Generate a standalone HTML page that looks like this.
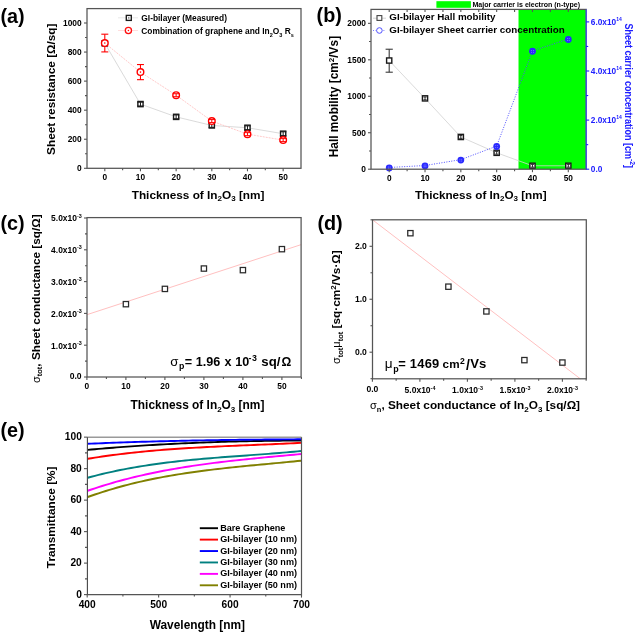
<!DOCTYPE html>
<html><head><meta charset="utf-8"><style>
html,body{margin:0;padding:0;background:#fff;}
svg{display:block;filter:blur(0.3px);font-family:"Liberation Sans", sans-serif;}
</style></head><body>
<svg width="637" height="632" viewBox="0 0 637 632">
<rect width="637" height="632" fill="#fff"/>
<polyline points="104.8,43.34 140.47,104.08 176.14,116.86 211.81,125.44 247.48,127.76 283.15,133.72" fill="none" stroke="#d6d6d6" stroke-width="0.9" />
<polyline points="104.8,43.05 140.47,72.11 176.14,95.21 211.81,121.08 247.48,134.15 283.15,140.11" fill="none" stroke="#ffc4c4" stroke-width="0.9" stroke-dasharray="2 1"/>
<rect x="102.2" y="40.74" width="5.2" height="5.2" fill="#fff" stroke="#1a1a1a" stroke-width="1.4" />
<line x1="104.8" y1="41.44" x2="104.8" y2="45.24" stroke="#1a1a1a" stroke-width="1" />
<line x1="101.6" y1="41.44" x2="108" y2="41.44" stroke="#1a1a1a" stroke-width="1" />
<line x1="101.6" y1="45.24" x2="108" y2="45.24" stroke="#1a1a1a" stroke-width="1" />
<rect x="137.87" y="101.48" width="5.2" height="5.2" fill="#fff" stroke="#1a1a1a" stroke-width="1.4" />
<line x1="140.47" y1="102.18" x2="140.47" y2="105.98" stroke="#1a1a1a" stroke-width="1" />
<line x1="137.27" y1="102.18" x2="143.67" y2="102.18" stroke="#1a1a1a" stroke-width="1" />
<line x1="137.27" y1="105.98" x2="143.67" y2="105.98" stroke="#1a1a1a" stroke-width="1" />
<rect x="173.54" y="114.26" width="5.2" height="5.2" fill="#fff" stroke="#1a1a1a" stroke-width="1.4" />
<line x1="176.14" y1="114.96" x2="176.14" y2="118.76" stroke="#1a1a1a" stroke-width="1" />
<line x1="172.94" y1="114.96" x2="179.34" y2="114.96" stroke="#1a1a1a" stroke-width="1" />
<line x1="172.94" y1="118.76" x2="179.34" y2="118.76" stroke="#1a1a1a" stroke-width="1" />
<rect x="209.21" y="122.84" width="5.2" height="5.2" fill="#fff" stroke="#1a1a1a" stroke-width="1.4" />
<line x1="211.81" y1="123.54" x2="211.81" y2="127.34" stroke="#1a1a1a" stroke-width="1" />
<line x1="208.61" y1="123.54" x2="215.01" y2="123.54" stroke="#1a1a1a" stroke-width="1" />
<line x1="208.61" y1="127.34" x2="215.01" y2="127.34" stroke="#1a1a1a" stroke-width="1" />
<rect x="244.88" y="125.16" width="5.2" height="5.2" fill="#fff" stroke="#1a1a1a" stroke-width="1.4" />
<line x1="247.48" y1="125.86" x2="247.48" y2="129.66" stroke="#1a1a1a" stroke-width="1" />
<line x1="244.28" y1="125.86" x2="250.68" y2="125.86" stroke="#1a1a1a" stroke-width="1" />
<line x1="244.28" y1="129.66" x2="250.68" y2="129.66" stroke="#1a1a1a" stroke-width="1" />
<rect x="280.55" y="131.12" width="5.2" height="5.2" fill="#fff" stroke="#1a1a1a" stroke-width="1.4" />
<line x1="283.15" y1="131.82" x2="283.15" y2="135.62" stroke="#1a1a1a" stroke-width="1" />
<line x1="279.95" y1="131.82" x2="286.35" y2="131.82" stroke="#1a1a1a" stroke-width="1" />
<line x1="279.95" y1="135.62" x2="286.35" y2="135.62" stroke="#1a1a1a" stroke-width="1" />
<line x1="104.8" y1="51.91" x2="104.8" y2="34.19" stroke="#f00" stroke-width="1.1" />
<line x1="101.3" y1="51.91" x2="108.3" y2="51.91" stroke="#f00" stroke-width="1.1" />
<line x1="101.3" y1="34.19" x2="108.3" y2="34.19" stroke="#f00" stroke-width="1.1" />
<circle cx="104.8" cy="43.05" r="3.3" fill="#fff" stroke="#f00" stroke-width="1.4"/>
<circle cx="104.8" cy="43.05" r="0.8" fill="#f00"/>
<line x1="140.47" y1="79.67" x2="140.47" y2="64.56" stroke="#f00" stroke-width="1.1" />
<line x1="136.97" y1="79.67" x2="143.97" y2="79.67" stroke="#f00" stroke-width="1.1" />
<line x1="136.97" y1="64.56" x2="143.97" y2="64.56" stroke="#f00" stroke-width="1.1" />
<circle cx="140.47" cy="72.11" r="3.3" fill="#fff" stroke="#f00" stroke-width="1.4"/>
<circle cx="140.47" cy="72.11" r="0.8" fill="#f00"/>
<circle cx="176.14" cy="95.21" r="3.3" fill="#fff" stroke="#f00" stroke-width="1.4"/>
<line x1="176.14" y1="93.71" x2="176.14" y2="96.71" stroke="#f00" stroke-width="1" />
<line x1="172.74" y1="93.71" x2="179.54" y2="93.71" stroke="#f00" stroke-width="1" />
<line x1="172.74" y1="96.71" x2="179.54" y2="96.71" stroke="#f00" stroke-width="1" />
<circle cx="211.81" cy="121.08" r="3.3" fill="#fff" stroke="#f00" stroke-width="1.4"/>
<line x1="211.81" y1="119.58" x2="211.81" y2="122.58" stroke="#f00" stroke-width="1" />
<line x1="208.41" y1="119.58" x2="215.21" y2="119.58" stroke="#f00" stroke-width="1" />
<line x1="208.41" y1="122.58" x2="215.21" y2="122.58" stroke="#f00" stroke-width="1" />
<circle cx="247.48" cy="134.15" r="3.3" fill="#fff" stroke="#f00" stroke-width="1.4"/>
<line x1="247.48" y1="132.65" x2="247.48" y2="135.65" stroke="#f00" stroke-width="1" />
<line x1="244.08" y1="132.65" x2="250.88" y2="132.65" stroke="#f00" stroke-width="1" />
<line x1="244.08" y1="135.65" x2="250.88" y2="135.65" stroke="#f00" stroke-width="1" />
<circle cx="283.15" cy="140.11" r="3.3" fill="#fff" stroke="#f00" stroke-width="1.4"/>
<line x1="283.15" y1="138.61" x2="283.15" y2="141.61" stroke="#f00" stroke-width="1" />
<line x1="279.75" y1="138.61" x2="286.55" y2="138.61" stroke="#f00" stroke-width="1" />
<line x1="279.75" y1="141.61" x2="286.55" y2="141.61" stroke="#f00" stroke-width="1" />
<rect x="87" y="8.6" width="214" height="159.7" fill="none" stroke="#555555" stroke-width="1.25" />
<line x1="87" y1="168.3" x2="84" y2="168.3" stroke="#555555" stroke-width="1.1" />
<line x1="87" y1="139.24" x2="84" y2="139.24" stroke="#555555" stroke-width="1.1" />
<line x1="87" y1="110.18" x2="84" y2="110.18" stroke="#555555" stroke-width="1.1" />
<line x1="87" y1="81.12" x2="84" y2="81.12" stroke="#555555" stroke-width="1.1" />
<line x1="87" y1="52.06" x2="84" y2="52.06" stroke="#555555" stroke-width="1.1" />
<line x1="87" y1="23" x2="84" y2="23" stroke="#555555" stroke-width="1.1" />
<line x1="87" y1="153.77" x2="85" y2="153.77" stroke="#555555" stroke-width="1.1" />
<line x1="87" y1="124.71" x2="85" y2="124.71" stroke="#555555" stroke-width="1.1" />
<line x1="87" y1="95.65" x2="85" y2="95.65" stroke="#555555" stroke-width="1.1" />
<line x1="87" y1="66.59" x2="85" y2="66.59" stroke="#555555" stroke-width="1.1" />
<line x1="87" y1="37.53" x2="85" y2="37.53" stroke="#555555" stroke-width="1.1" />
<line x1="104.8" y1="168.3" x2="104.8" y2="171.3" stroke="#555555" stroke-width="1.1" />
<line x1="140.47" y1="168.3" x2="140.47" y2="171.3" stroke="#555555" stroke-width="1.1" />
<line x1="176.14" y1="168.3" x2="176.14" y2="171.3" stroke="#555555" stroke-width="1.1" />
<line x1="211.81" y1="168.3" x2="211.81" y2="171.3" stroke="#555555" stroke-width="1.1" />
<line x1="247.48" y1="168.3" x2="247.48" y2="171.3" stroke="#555555" stroke-width="1.1" />
<line x1="283.15" y1="168.3" x2="283.15" y2="171.3" stroke="#555555" stroke-width="1.1" />
<line x1="122.63" y1="168.3" x2="122.63" y2="170.3" stroke="#555555" stroke-width="1.1" />
<line x1="158.31" y1="168.3" x2="158.31" y2="170.3" stroke="#555555" stroke-width="1.1" />
<line x1="193.98" y1="168.3" x2="193.98" y2="170.3" stroke="#555555" stroke-width="1.1" />
<line x1="229.64" y1="168.3" x2="229.64" y2="170.3" stroke="#555555" stroke-width="1.1" />
<line x1="265.31" y1="168.3" x2="265.31" y2="170.3" stroke="#555555" stroke-width="1.1" />
<text x="81.7" y="171" font-size="8.4" text-anchor="end" fill="#000" font-weight="bold" >0</text>
<text x="81.7" y="141.94" font-size="8.4" text-anchor="end" fill="#000" font-weight="bold" >200</text>
<text x="81.7" y="112.88" font-size="8.4" text-anchor="end" fill="#000" font-weight="bold" >400</text>
<text x="81.7" y="83.82" font-size="8.4" text-anchor="end" fill="#000" font-weight="bold" >600</text>
<text x="81.7" y="54.76" font-size="8.4" text-anchor="end" fill="#000" font-weight="bold" >800</text>
<text x="81.7" y="25.7" font-size="8.4" text-anchor="end" fill="#000" font-weight="bold" >1000</text>
<text x="104.8" y="180" font-size="8.3" text-anchor="middle" fill="#000" font-weight="bold" >0</text>
<text x="140.47" y="180" font-size="8.3" text-anchor="middle" fill="#000" font-weight="bold" >10</text>
<text x="176.14" y="180" font-size="8.3" text-anchor="middle" fill="#000" font-weight="bold" >20</text>
<text x="211.81" y="180" font-size="8.3" text-anchor="middle" fill="#000" font-weight="bold" >30</text>
<text x="247.48" y="180" font-size="8.3" text-anchor="middle" fill="#000" font-weight="bold" >40</text>
<text x="283.15" y="180" font-size="8.3" text-anchor="middle" fill="#000" font-weight="bold" >50</text>
<text x="131.7" y="198.7" font-size="11.8" text-anchor="start" fill="#000" font-weight="bold" >Thickness of In<tspan font-size="8" dy="2.5">2</tspan><tspan font-size="11.8" dy="-2.5">O</tspan><tspan font-size="8" dy="2.5">3</tspan><tspan font-size="11.8" dy="-2.5"> [nm]</tspan></text>
<text x="55.1" y="89.2" font-size="11.8" text-anchor="middle" fill="#000" font-weight="bold" transform="rotate(-90 55.1 89.2)" >Sheet resistance [Ω/sq]</text>
<text x="0.4" y="23.1" font-size="19.8" text-anchor="start" fill="#000" font-weight="bold" >(a)</text>
<line x1="118" y1="17.8" x2="138" y2="17.8" stroke="#e2e2e2" stroke-width="0.8" />
<rect x="126.3" y="15.4" width="5" height="5" fill="#fff" stroke="#1a1a1a" stroke-width="1.35" />
<circle cx="128.8" cy="17.9" r="0.7" fill="#333"/>
<line x1="118" y1="30.5" x2="138" y2="30.5" stroke="#ffd6d6" stroke-width="0.8" />
<circle cx="128.4" cy="30.5" r="3.1" fill="#fff" stroke="#ff1010" stroke-width="1.3"/>
<circle cx="128.4" cy="30.5" r="0.8" fill="#ff1010"/>
<text x="141.3" y="20.7" font-size="8.4" text-anchor="start" fill="#000" font-weight="bold" >GI-bilayer (Measured)</text>
<text x="141.3" y="33.5" font-size="8.4" text-anchor="start" fill="#000" font-weight="bold" >Combination of graphene and In<tspan font-size="5.5" dy="3">2</tspan><tspan font-size="8.4" dy="-3">O</tspan><tspan font-size="5.5" dy="3">3</tspan><tspan font-size="8.4" dy="-3"> R</tspan><tspan font-size="5.5" dy="3">s</tspan></text>
<rect x="518.51" y="9.4" width="67.69" height="159.8" fill="#00ff00" stroke="none" stroke-width="1" />
<polyline points="389.2,60.53 425.02,98.38 460.84,136.96 496.66,152.79 532.48,165.77 568.3,165.77" fill="none" stroke="#d0d0d0" stroke-width="0.8" />
<polyline points="389.2,167.48 425.02,165.52 460.84,159.63 496.66,146.12 532.48,50.87 568.3,39.08" fill="none" stroke="#5050ff" stroke-width="1" stroke-dasharray="1 1.5"/>
<line x1="389.2" y1="49.23" x2="389.2" y2="72.2" stroke="#3a3a3a" stroke-width="1.1" />
<line x1="385.6" y1="49.23" x2="392.8" y2="49.23" stroke="#3a3a3a" stroke-width="1.1" />
<line x1="385.6" y1="72.2" x2="392.8" y2="72.2" stroke="#3a3a3a" stroke-width="1.1" />
<rect x="386.6" y="57.93" width="5.2" height="5.2" fill="#fff" stroke="#1a1a1a" stroke-width="1.4" />
<rect x="422.42" y="95.78" width="5.2" height="5.2" fill="#fff" stroke="#1a1a1a" stroke-width="1.4" />
<line x1="425.02" y1="96.98" x2="425.02" y2="99.78" stroke="#1a1a1a" stroke-width="0.9" />
<line x1="423.42" y1="96.98" x2="426.62" y2="96.98" stroke="#1a1a1a" stroke-width="0.9" />
<line x1="423.42" y1="99.78" x2="426.62" y2="99.78" stroke="#1a1a1a" stroke-width="0.9" />
<rect x="458.24" y="134.36" width="5.2" height="5.2" fill="#fff" stroke="#1a1a1a" stroke-width="1.4" />
<line x1="460.84" y1="135.56" x2="460.84" y2="138.36" stroke="#1a1a1a" stroke-width="0.9" />
<line x1="459.24" y1="135.56" x2="462.44" y2="135.56" stroke="#1a1a1a" stroke-width="0.9" />
<line x1="459.24" y1="138.36" x2="462.44" y2="138.36" stroke="#1a1a1a" stroke-width="0.9" />
<rect x="494.06" y="150.19" width="5.2" height="5.2" fill="#fff" stroke="#1a1a1a" stroke-width="1.4" />
<line x1="496.66" y1="151.39" x2="496.66" y2="154.19" stroke="#1a1a1a" stroke-width="0.9" />
<line x1="495.06" y1="151.39" x2="498.26" y2="151.39" stroke="#1a1a1a" stroke-width="0.9" />
<line x1="495.06" y1="154.19" x2="498.26" y2="154.19" stroke="#1a1a1a" stroke-width="0.9" />
<rect x="529.88" y="163.17" width="5.2" height="5.2" fill="#fff" stroke="#1a1a1a" stroke-width="1.4" />
<line x1="532.48" y1="164.37" x2="532.48" y2="167.17" stroke="#1a1a1a" stroke-width="0.9" />
<line x1="530.88" y1="164.37" x2="534.08" y2="164.37" stroke="#1a1a1a" stroke-width="0.9" />
<line x1="530.88" y1="167.17" x2="534.08" y2="167.17" stroke="#1a1a1a" stroke-width="0.9" />
<rect x="565.7" y="163.17" width="5.2" height="5.2" fill="#fff" stroke="#1a1a1a" stroke-width="1.4" />
<line x1="568.3" y1="164.37" x2="568.3" y2="167.17" stroke="#1a1a1a" stroke-width="0.9" />
<line x1="566.7" y1="164.37" x2="569.9" y2="164.37" stroke="#1a1a1a" stroke-width="0.9" />
<line x1="566.7" y1="167.17" x2="569.9" y2="167.17" stroke="#1a1a1a" stroke-width="0.9" />
<circle cx="389.2" cy="167.88" r="3.4" fill="#2a2aff"/>
<circle cx="388.3" cy="166.98" r="0.45" fill="#c8c8ff"/>
<circle cx="388.3" cy="168.78" r="0.45" fill="#c8c8ff"/>
<circle cx="390.1" cy="166.98" r="0.45" fill="#c8c8ff"/>
<circle cx="390.1" cy="168.78" r="0.45" fill="#c8c8ff"/>
<circle cx="425.02" cy="165.92" r="3.4" fill="#2a2aff"/>
<circle cx="424.12" cy="165.02" r="0.45" fill="#c8c8ff"/>
<circle cx="424.12" cy="166.82" r="0.45" fill="#c8c8ff"/>
<circle cx="425.92" cy="165.02" r="0.45" fill="#c8c8ff"/>
<circle cx="425.92" cy="166.82" r="0.45" fill="#c8c8ff"/>
<circle cx="460.84" cy="160.03" r="3.4" fill="#2a2aff"/>
<circle cx="459.94" cy="159.13" r="0.45" fill="#c8c8ff"/>
<circle cx="459.94" cy="160.93" r="0.45" fill="#c8c8ff"/>
<circle cx="461.74" cy="159.13" r="0.45" fill="#c8c8ff"/>
<circle cx="461.74" cy="160.93" r="0.45" fill="#c8c8ff"/>
<circle cx="496.66" cy="146.52" r="3.4" fill="#2a2aff"/>
<circle cx="495.76" cy="145.62" r="0.45" fill="#c8c8ff"/>
<circle cx="495.76" cy="147.42" r="0.45" fill="#c8c8ff"/>
<circle cx="497.56" cy="145.62" r="0.45" fill="#c8c8ff"/>
<circle cx="497.56" cy="147.42" r="0.45" fill="#c8c8ff"/>
<circle cx="532.48" cy="51.27" r="3.4" fill="#2a2aff"/>
<circle cx="531.58" cy="50.37" r="0.45" fill="#c8c8ff"/>
<circle cx="531.58" cy="52.17" r="0.45" fill="#c8c8ff"/>
<circle cx="533.38" cy="50.37" r="0.45" fill="#c8c8ff"/>
<circle cx="533.38" cy="52.17" r="0.45" fill="#c8c8ff"/>
<circle cx="568.3" cy="39.48" r="3.4" fill="#2a2aff"/>
<circle cx="567.4" cy="38.58" r="0.45" fill="#c8c8ff"/>
<circle cx="567.4" cy="40.38" r="0.45" fill="#c8c8ff"/>
<circle cx="569.2" cy="38.58" r="0.45" fill="#c8c8ff"/>
<circle cx="569.2" cy="40.38" r="0.45" fill="#c8c8ff"/>
<rect x="371" y="9.4" width="215.2" height="159.8" fill="none" stroke="#555555" stroke-width="1.25" />
<line x1="586.2" y1="9.4" x2="586.2" y2="169.2" stroke="#4848ff" stroke-width="1.15" />
<line x1="371" y1="169.2" x2="368" y2="169.2" stroke="#555555" stroke-width="1.1" />
<line x1="371" y1="132.73" x2="368" y2="132.73" stroke="#555555" stroke-width="1.1" />
<line x1="371" y1="96.27" x2="368" y2="96.27" stroke="#555555" stroke-width="1.1" />
<line x1="371" y1="59.8" x2="368" y2="59.8" stroke="#555555" stroke-width="1.1" />
<line x1="371" y1="23.34" x2="368" y2="23.34" stroke="#555555" stroke-width="1.1" />
<line x1="371" y1="150.97" x2="369" y2="150.97" stroke="#555555" stroke-width="1.1" />
<line x1="371" y1="114.5" x2="369" y2="114.5" stroke="#555555" stroke-width="1.1" />
<line x1="371" y1="78.04" x2="369" y2="78.04" stroke="#555555" stroke-width="1.1" />
<line x1="371" y1="41.57" x2="369" y2="41.57" stroke="#555555" stroke-width="1.1" />
<line x1="389.2" y1="169.2" x2="389.2" y2="172.2" stroke="#555555" stroke-width="1.1" />
<line x1="425.02" y1="169.2" x2="425.02" y2="172.2" stroke="#555555" stroke-width="1.1" />
<line x1="460.84" y1="169.2" x2="460.84" y2="172.2" stroke="#555555" stroke-width="1.1" />
<line x1="496.66" y1="169.2" x2="496.66" y2="172.2" stroke="#555555" stroke-width="1.1" />
<line x1="532.48" y1="169.2" x2="532.48" y2="172.2" stroke="#555555" stroke-width="1.1" />
<line x1="568.3" y1="169.2" x2="568.3" y2="172.2" stroke="#555555" stroke-width="1.1" />
<line x1="407.11" y1="169.2" x2="407.11" y2="171.2" stroke="#555555" stroke-width="1.1" />
<line x1="442.93" y1="169.2" x2="442.93" y2="171.2" stroke="#555555" stroke-width="1.1" />
<line x1="478.75" y1="169.2" x2="478.75" y2="171.2" stroke="#555555" stroke-width="1.1" />
<line x1="514.57" y1="169.2" x2="514.57" y2="171.2" stroke="#555555" stroke-width="1.1" />
<line x1="550.39" y1="169.2" x2="550.39" y2="171.2" stroke="#555555" stroke-width="1.1" />
<line x1="389.2" y1="9.4" x2="389.2" y2="12" stroke="#555555" stroke-width="1.1" />
<line x1="407.11" y1="9.4" x2="407.11" y2="12" stroke="#555555" stroke-width="1.1" />
<line x1="425.02" y1="9.4" x2="425.02" y2="12" stroke="#555555" stroke-width="1.1" />
<line x1="442.93" y1="9.4" x2="442.93" y2="12" stroke="#555555" stroke-width="1.1" />
<line x1="460.84" y1="9.4" x2="460.84" y2="12" stroke="#555555" stroke-width="1.1" />
<line x1="478.75" y1="9.4" x2="478.75" y2="12" stroke="#555555" stroke-width="1.1" />
<line x1="496.66" y1="9.4" x2="496.66" y2="12" stroke="#555555" stroke-width="1.1" />
<line x1="514.57" y1="9.4" x2="514.57" y2="12" stroke="#555555" stroke-width="1.1" />
<line x1="532.48" y1="9.4" x2="532.48" y2="12" stroke="#555555" stroke-width="1.1" />
<line x1="550.39" y1="9.4" x2="550.39" y2="12" stroke="#555555" stroke-width="1.1" />
<line x1="568.3" y1="9.4" x2="568.3" y2="12" stroke="#555555" stroke-width="1.1" />
<line x1="586.2" y1="169.2" x2="589.2" y2="169.2" stroke="#2020ff" stroke-width="1.1" />
<line x1="586.2" y1="120.1" x2="589.2" y2="120.1" stroke="#2020ff" stroke-width="1.1" />
<line x1="586.2" y1="71" x2="589.2" y2="71" stroke="#2020ff" stroke-width="1.1" />
<line x1="586.2" y1="21.9" x2="589.2" y2="21.9" stroke="#2020ff" stroke-width="1.1" />
<line x1="586.2" y1="144.65" x2="588.2" y2="144.65" stroke="#2020ff" stroke-width="1.1" />
<line x1="586.2" y1="95.55" x2="588.2" y2="95.55" stroke="#2020ff" stroke-width="1.1" />
<line x1="586.2" y1="46.45" x2="588.2" y2="46.45" stroke="#2020ff" stroke-width="1.1" />
<text x="366" y="172.3" font-size="8.4" text-anchor="end" fill="#000" font-weight="bold" >0</text>
<text x="366" y="135.83" font-size="8.4" text-anchor="end" fill="#000" font-weight="bold" >500</text>
<text x="366" y="99.37" font-size="8.4" text-anchor="end" fill="#000" font-weight="bold" >1000</text>
<text x="366" y="62.9" font-size="8.4" text-anchor="end" fill="#000" font-weight="bold" >1500</text>
<text x="366" y="26.44" font-size="8.4" text-anchor="end" fill="#000" font-weight="bold" >2000</text>
<text x="389.2" y="181.3" font-size="8.3" text-anchor="middle" fill="#000" font-weight="bold" >0</text>
<text x="425.02" y="181.3" font-size="8.3" text-anchor="middle" fill="#000" font-weight="bold" >10</text>
<text x="460.84" y="181.3" font-size="8.3" text-anchor="middle" fill="#000" font-weight="bold" >20</text>
<text x="496.66" y="181.3" font-size="8.3" text-anchor="middle" fill="#000" font-weight="bold" >30</text>
<text x="532.48" y="181.3" font-size="8.3" text-anchor="middle" fill="#000" font-weight="bold" >40</text>
<text x="568.3" y="181.3" font-size="8.3" text-anchor="middle" fill="#000" font-weight="bold" >50</text>
<text x="590.8" y="172.2" font-size="8.3" text-anchor="start" fill="#2020ff" font-weight="bold" >0.0</text>
<text x="590.8" y="123.1" font-size="8.3" text-anchor="start" fill="#2020ff" font-weight="bold" >2.0x10<tspan font-size="5" dy="-4.2">14</tspan></text>
<text x="590.8" y="74" font-size="8.3" text-anchor="start" fill="#2020ff" font-weight="bold" >4.0x10<tspan font-size="5" dy="-4.2">14</tspan></text>
<text x="590.8" y="24.9" font-size="8.3" text-anchor="start" fill="#2020ff" font-weight="bold" >6.0x10<tspan font-size="5" dy="-4.2">14</tspan></text>
<text x="414.9" y="198.9" font-size="11.7" text-anchor="start" fill="#000" font-weight="bold" >Thickness of In<tspan font-size="8" dy="2.5">2</tspan><tspan font-size="11.7" dy="-2.5">O</tspan><tspan font-size="8" dy="2.5">3</tspan><tspan font-size="11.7" dy="-2.5"> [nm]</tspan></text>
<text x="338.4" y="96.6" font-size="11.9" text-anchor="middle" fill="#000" font-weight="bold" transform="rotate(-90 338.4 96.6)" >Hall mobility [cm<tspan font-size="8" dy="-4.5">2</tspan><tspan font-size="11.9" dy="4.5">/Vs]</tspan></text>
<text transform="translate(625.0 23.4) rotate(90) scale(0.866 1)" font-size="10.4" font-weight="bold" fill="#2020ff">Sheet carrier concentration [cm<tspan font-size="8" dy="-5.2">-2</tspan><tspan dy="5.2">]</tspan></text>
<text x="316.6" y="22.2" font-size="19.8" text-anchor="start" fill="#000" font-weight="bold" >(b)</text>
<line x1="373" y1="18.2" x2="386" y2="18.2" stroke="#c8c8c8" stroke-width="0.8" />
<rect x="377" y="15.6" width="4.8" height="4.8" fill="#fff" stroke="#444" stroke-width="1.1" />
<line x1="373" y1="30.5" x2="386" y2="30.5" stroke="#7070ff" stroke-width="0.9" stroke-dasharray="1 1.6"/>
<circle cx="379.4" cy="30.5" r="2.8" fill="#fff" stroke="#5050ff" stroke-width="1"/>
<text x="389.3" y="20.2" font-size="9.8" text-anchor="start" fill="#000" font-weight="bold" >GI-bilayer Hall mobility</text>
<text x="389.3" y="32.6" font-size="9.8" text-anchor="start" fill="#000" font-weight="bold" >GI-bilayer Sheet carrier concentration</text>
<rect x="436.4" y="1.2" width="34.5" height="6.6" fill="#00ff00" stroke="none" stroke-width="1" />
<text x="472.4" y="6.5" font-size="7.05" text-anchor="start" fill="#000" font-weight="bold" >Major carrier is electron (n-type)</text>
<line x1="87" y1="314.67" x2="301.1" y2="244.64" stroke="#ffc0c0" stroke-width="1" />
<rect x="123.25" y="301.51" width="5.3" height="5.3" fill="#fff" stroke="#2a2a2a" stroke-width="1.25" />
<rect x="162.25" y="286.25" width="5.3" height="5.3" fill="#fff" stroke="#2a2a2a" stroke-width="1.25" />
<rect x="201.25" y="265.89" width="5.3" height="5.3" fill="#fff" stroke="#2a2a2a" stroke-width="1.25" />
<rect x="240.25" y="267.48" width="5.3" height="5.3" fill="#fff" stroke="#2a2a2a" stroke-width="1.25" />
<rect x="279.25" y="246.5" width="5.3" height="5.3" fill="#fff" stroke="#2a2a2a" stroke-width="1.25" />
<rect x="87" y="217.6" width="214.1" height="159.4" fill="none" stroke="#555555" stroke-width="1.25" />
<line x1="87" y1="377" x2="84" y2="377" stroke="#555555" stroke-width="1.1" />
<line x1="87" y1="345.2" x2="84" y2="345.2" stroke="#555555" stroke-width="1.1" />
<line x1="87" y1="313.4" x2="84" y2="313.4" stroke="#555555" stroke-width="1.1" />
<line x1="87" y1="281.6" x2="84" y2="281.6" stroke="#555555" stroke-width="1.1" />
<line x1="87" y1="249.8" x2="84" y2="249.8" stroke="#555555" stroke-width="1.1" />
<line x1="87" y1="218" x2="84" y2="218" stroke="#555555" stroke-width="1.1" />
<line x1="87" y1="361.1" x2="85" y2="361.1" stroke="#555555" stroke-width="1.1" />
<line x1="87" y1="329.3" x2="85" y2="329.3" stroke="#555555" stroke-width="1.1" />
<line x1="87" y1="297.5" x2="85" y2="297.5" stroke="#555555" stroke-width="1.1" />
<line x1="87" y1="265.7" x2="85" y2="265.7" stroke="#555555" stroke-width="1.1" />
<line x1="87" y1="233.9" x2="85" y2="233.9" stroke="#555555" stroke-width="1.1" />
<line x1="86.9" y1="377" x2="86.9" y2="380" stroke="#555555" stroke-width="1.1" />
<line x1="125.9" y1="377" x2="125.9" y2="380" stroke="#555555" stroke-width="1.1" />
<line x1="164.9" y1="377" x2="164.9" y2="380" stroke="#555555" stroke-width="1.1" />
<line x1="203.9" y1="377" x2="203.9" y2="380" stroke="#555555" stroke-width="1.1" />
<line x1="242.9" y1="377" x2="242.9" y2="380" stroke="#555555" stroke-width="1.1" />
<line x1="281.9" y1="377" x2="281.9" y2="380" stroke="#555555" stroke-width="1.1" />
<line x1="106.4" y1="377" x2="106.4" y2="379" stroke="#555555" stroke-width="1.1" />
<line x1="145.4" y1="377" x2="145.4" y2="379" stroke="#555555" stroke-width="1.1" />
<line x1="184.4" y1="377" x2="184.4" y2="379" stroke="#555555" stroke-width="1.1" />
<line x1="223.4" y1="377" x2="223.4" y2="379" stroke="#555555" stroke-width="1.1" />
<line x1="262.4" y1="377" x2="262.4" y2="379" stroke="#555555" stroke-width="1.1" />
<line x1="301.4" y1="377" x2="301.4" y2="379" stroke="#555555" stroke-width="1.1" />
<text x="81.6" y="378.6" font-size="8.6" text-anchor="end" fill="#000" font-weight="bold" >0.0</text>
<text x="51.1" y="348.6" font-size="8.45" text-anchor="start" fill="#000" font-weight="bold" >1.0x10<tspan font-size="5.4" dy="-3.8">-3</tspan></text>
<text x="51.1" y="316.8" font-size="8.45" text-anchor="start" fill="#000" font-weight="bold" >2.0x10<tspan font-size="5.4" dy="-3.8">-3</tspan></text>
<text x="51.1" y="285" font-size="8.45" text-anchor="start" fill="#000" font-weight="bold" >3.0x10<tspan font-size="5.4" dy="-3.8">-3</tspan></text>
<text x="51.1" y="253.2" font-size="8.45" text-anchor="start" fill="#000" font-weight="bold" >4.0x10<tspan font-size="5.4" dy="-3.8">-3</tspan></text>
<text x="51.1" y="221.4" font-size="8.45" text-anchor="start" fill="#000" font-weight="bold" >5.0x10<tspan font-size="5.4" dy="-3.8">-3</tspan></text>
<text x="86.9" y="389.2" font-size="8.4" text-anchor="middle" fill="#000" font-weight="bold" >0</text>
<text x="125.9" y="389.2" font-size="8.4" text-anchor="middle" fill="#000" font-weight="bold" >10</text>
<text x="164.9" y="389.2" font-size="8.4" text-anchor="middle" fill="#000" font-weight="bold" >20</text>
<text x="203.9" y="389.2" font-size="8.4" text-anchor="middle" fill="#000" font-weight="bold" >30</text>
<text x="242.9" y="389.2" font-size="8.4" text-anchor="middle" fill="#000" font-weight="bold" >40</text>
<text x="281.9" y="389.2" font-size="8.4" text-anchor="middle" fill="#000" font-weight="bold" >50</text>
<text x="130.6" y="409" font-size="11.9" text-anchor="start" fill="#000" font-weight="bold" >Thickness of In<tspan font-size="8" dy="2.5">2</tspan><tspan font-size="11.9" dy="-2.5">O</tspan><tspan font-size="8" dy="2.5">3</tspan><tspan font-size="11.9" dy="-2.5"> [nm]</tspan></text>
<text x="39.8" y="383" font-size="11.8" text-anchor="start" fill="#000" font-weight="bold" transform="rotate(-90 39.8 383)" ><tspan font-weight="normal" font-size="11">σ</tspan><tspan font-size="7.5" dy="2.5">tot</tspan><tspan font-size="11.8" dy="-2.5">, Sheet conductance [sq/Ω]</tspan></text>
<text x="170.2" y="365.6" font-size="13.2" text-anchor="start" fill="#000" font-weight="normal" >σ</text>
<text x="178.9" y="368.9" font-size="8.8" text-anchor="start" fill="#000" font-weight="bold" >p</text>
<text x="184.8" y="365.6" font-size="12.6" text-anchor="start" fill="#000" font-weight="bold" >= 1.96</text>
<text x="224.6" y="365.6" font-size="12.6" text-anchor="start" fill="#000" font-weight="bold" >x</text>
<text x="235.3" y="365.6" font-size="12.6" text-anchor="start" fill="#000" font-weight="bold" >10</text>
<text x="248.6" y="361.3" font-size="8.8" text-anchor="start" fill="#000" font-weight="bold" letter-spacing="0.4">-3</text>
<text x="261.3" y="365.6" font-size="13.2" text-anchor="start" fill="#000" font-weight="bold" >sq/</text>
<text x="281.6" y="365.6" font-size="12.2" text-anchor="start" fill="#000" font-weight="bold" >Ω</text>
<text x="0.4" y="230" font-size="19.8" text-anchor="start" fill="#000" font-weight="bold" >(c)</text>
<line x1="372.5" y1="219.8" x2="580.3" y2="378.8" stroke="#ffc0c0" stroke-width="1" />
<rect x="407.75" y="230.55" width="5.3" height="5.3" fill="#fff" stroke="#2a2a2a" stroke-width="1.25" />
<rect x="445.75" y="284.03" width="5.3" height="5.3" fill="#fff" stroke="#2a2a2a" stroke-width="1.25" />
<rect x="483.75" y="308.76" width="5.3" height="5.3" fill="#fff" stroke="#2a2a2a" stroke-width="1.25" />
<rect x="521.75" y="357.47" width="5.3" height="5.3" fill="#fff" stroke="#2a2a2a" stroke-width="1.25" />
<rect x="559.75" y="359.91" width="5.3" height="5.3" fill="#fff" stroke="#2a2a2a" stroke-width="1.25" />
<rect x="372.5" y="219.8" width="213.8" height="159" fill="none" stroke="#555555" stroke-width="1.25" />
<line x1="372.5" y1="352.2" x2="369.5" y2="352.2" stroke="#555555" stroke-width="1.1" />
<line x1="372.5" y1="299.25" x2="369.5" y2="299.25" stroke="#555555" stroke-width="1.1" />
<line x1="372.5" y1="246.3" x2="369.5" y2="246.3" stroke="#555555" stroke-width="1.1" />
<line x1="372.5" y1="378.68" x2="370.5" y2="378.68" stroke="#555555" stroke-width="1.1" />
<line x1="372.5" y1="325.72" x2="370.5" y2="325.72" stroke="#555555" stroke-width="1.1" />
<line x1="372.5" y1="272.77" x2="370.5" y2="272.77" stroke="#555555" stroke-width="1.1" />
<line x1="372.5" y1="219.82" x2="370.5" y2="219.82" stroke="#555555" stroke-width="1.1" />
<line x1="372.4" y1="378.8" x2="372.4" y2="381.8" stroke="#555555" stroke-width="1.1" />
<line x1="419.9" y1="378.8" x2="419.9" y2="381.8" stroke="#555555" stroke-width="1.1" />
<line x1="467.4" y1="378.8" x2="467.4" y2="381.8" stroke="#555555" stroke-width="1.1" />
<line x1="514.9" y1="378.8" x2="514.9" y2="381.8" stroke="#555555" stroke-width="1.1" />
<line x1="562.4" y1="378.8" x2="562.4" y2="381.8" stroke="#555555" stroke-width="1.1" />
<line x1="396.15" y1="378.8" x2="396.15" y2="380.8" stroke="#555555" stroke-width="1.1" />
<line x1="443.65" y1="378.8" x2="443.65" y2="380.8" stroke="#555555" stroke-width="1.1" />
<line x1="491.15" y1="378.8" x2="491.15" y2="380.8" stroke="#555555" stroke-width="1.1" />
<line x1="538.65" y1="378.8" x2="538.65" y2="380.8" stroke="#555555" stroke-width="1.1" />
<line x1="586.15" y1="378.8" x2="586.15" y2="380.8" stroke="#555555" stroke-width="1.1" />
<text x="366.9" y="355" font-size="8.6" text-anchor="end" fill="#000" font-weight="bold" >0.0</text>
<text x="366.9" y="302.05" font-size="8.6" text-anchor="end" fill="#000" font-weight="bold" >1.0</text>
<text x="366.9" y="249.1" font-size="8.6" text-anchor="end" fill="#000" font-weight="bold" >2.0</text>
<text x="372.4" y="391.6" font-size="8.6" text-anchor="middle" fill="#000" font-weight="bold" >0.0</text>
<text x="404.6" y="393.3" font-size="8.5" text-anchor="start" fill="#000" font-weight="bold" >5.0x10<tspan font-size="5.4" dy="-3.7">-4</tspan></text>
<text x="452.1" y="393.3" font-size="8.5" text-anchor="start" fill="#000" font-weight="bold" >1.0x10<tspan font-size="5.4" dy="-3.7">-3</tspan></text>
<text x="499.6" y="393.3" font-size="8.5" text-anchor="start" fill="#000" font-weight="bold" >1.5x10<tspan font-size="5.4" dy="-3.7">-3</tspan></text>
<text x="547.1" y="393.3" font-size="8.5" text-anchor="start" fill="#000" font-weight="bold" >2.0x10<tspan font-size="5.4" dy="-3.7">-3</tspan></text>
<text x="370" y="409" font-size="11.8" text-anchor="start" fill="#000" font-weight="bold" ><tspan font-weight="normal" font-size="11">σ</tspan><tspan font-size="7.5" dy="2.5">n</tspan><tspan font-size="11.8" dy="-2.5">, Sheet conductance of In</tspan><tspan font-size="8" dy="2.5">2</tspan><tspan font-size="11.8" dy="-2.5">O</tspan><tspan font-size="8" dy="2.5">3</tspan><tspan font-size="11.8" dy="-2.5"> [sq/Ω]</tspan></text>
<text x="340.4" y="364" font-size="11.8" text-anchor="start" fill="#000" font-weight="bold" transform="rotate(-90 340.4 364)" ><tspan font-weight="normal" font-size="11">σ</tspan><tspan font-size="7.5" dy="2.5">tot</tspan><tspan font-weight="normal" font-size="11" dy="-2.5">μ</tspan><tspan font-size="7.5" dy="2.5">tot</tspan><tspan font-size="11.8" dy="-2.5"> [sq·cm</tspan><tspan font-size="8" dy="-4.5">2</tspan><tspan font-size="11.8" dy="4.5">/Vs·Ω]</tspan></text>
<text x="384.8" y="368.4" font-size="13.6" text-anchor="start" fill="#000" font-weight="normal" >μ</text>
<text x="393.2" y="372" font-size="8.9" text-anchor="start" fill="#000" font-weight="bold" >p</text>
<text x="398.2" y="368.4" font-size="12.9" text-anchor="start" fill="#000" font-weight="bold" letter-spacing="0.25">= 1469</text>
<text x="442.6" y="368.4" font-size="11.7" text-anchor="start" fill="#000" font-weight="bold" letter-spacing="0.1">cm</text>
<text x="459.9" y="364" font-size="8.6" text-anchor="start" fill="#000" font-weight="bold" >2</text>
<text x="465.9" y="369.6" font-size="14" text-anchor="start" fill="#000" font-weight="bold" >/</text>
<text x="470.3" y="368.4" font-size="13.1" text-anchor="start" fill="#000" font-weight="bold" >Vs</text>
<text x="317.4" y="230" font-size="19.8" text-anchor="start" fill="#000" font-weight="bold" >(d)</text>
<polyline points="87.7,497.02 91.32,495.74 94.93,494.49 98.55,493.28 102.16,492.11 105.78,490.97 109.39,489.86 113.01,488.79 116.62,487.76 120.24,486.75 123.85,485.78 127.47,484.83 131.08,483.92 134.7,483.03 138.31,482.18 141.93,481.35 145.54,480.55 149.16,479.77 152.77,479.02 156.39,478.3 160.01,477.59 163.62,476.92 167.24,476.26 170.85,475.62 174.47,475.01 178.08,474.42 181.7,473.84 185.31,473.28 188.93,472.75 192.54,472.22 196.16,471.72 199.77,471.23 203.39,470.75 207,470.29 210.62,469.85 214.23,469.41 217.85,468.99 221.46,468.57 225.08,468.17 228.69,467.78 232.31,467.39 235.93,467.01 239.54,466.64 243.16,466.28 246.77,465.92 250.39,465.57 254,465.22 257.62,464.87 261.23,464.53 264.85,464.19 268.46,463.85 272.08,463.51 275.69,463.17 279.31,462.83 282.92,462.48 286.54,462.13 290.15,461.78 293.77,461.43 297.38,461.07 301,460.7" fill="none" stroke="#808000" stroke-width="1.9" stroke-linejoin="round"/>
<polyline points="87.7,490.74 91.32,489.5 94.93,488.3 98.55,487.12 102.16,485.98 105.78,484.87 109.39,483.79 113.01,482.74 116.62,481.71 120.24,480.72 123.85,479.75 127.47,478.82 131.08,477.9 134.7,477.02 138.31,476.16 141.93,475.32 145.54,474.51 149.16,473.73 152.77,472.96 156.39,472.22 160.01,471.5 163.62,470.8 167.24,470.12 170.85,469.47 174.47,468.83 178.08,468.21 181.7,467.61 185.31,467.02 188.93,466.46 192.54,465.9 196.16,465.37 199.77,464.85 203.39,464.35 207,463.86 210.62,463.38 214.23,462.91 217.85,462.46 221.46,462.02 225.08,461.59 228.69,461.17 232.31,460.76 235.93,460.36 239.54,459.97 243.16,459.58 246.77,459.2 250.39,458.83 254,458.47 257.62,458.11 261.23,457.76 264.85,457.41 268.46,457.06 272.08,456.72 275.69,456.37 279.31,456.04 282.92,455.7 286.54,455.36 290.15,455.02 293.77,454.69 297.38,454.35 301,454.01" fill="none" stroke="#ff00ff" stroke-width="1.9" stroke-linejoin="round"/>
<polyline points="87.7,477.76 91.32,476.78 94.93,475.83 98.55,474.92 102.16,474.03 105.78,473.18 109.39,472.35 113.01,471.56 116.62,470.79 120.24,470.05 123.85,469.34 127.47,468.65 131.08,467.99 134.7,467.35 138.31,466.73 141.93,466.14 145.54,465.57 149.16,465.02 152.77,464.49 156.39,463.98 160.01,463.49 163.62,463.02 167.24,462.56 170.85,462.13 174.47,461.7 178.08,461.3 181.7,460.9 185.31,460.52 188.93,460.16 192.54,459.8 196.16,459.46 199.77,459.13 203.39,458.81 207,458.49 210.62,458.19 214.23,457.89 217.85,457.6 221.46,457.32 225.08,457.04 228.69,456.76 232.31,456.49 235.93,456.23 239.54,455.96 243.16,455.7 246.77,455.43 250.39,455.17 254,454.91 257.62,454.64 261.23,454.37 264.85,454.1 268.46,453.83 272.08,453.55 275.69,453.26 279.31,452.97 282.92,452.67 286.54,452.37 290.15,452.06 293.77,451.73 297.38,451.4 301,451.06" fill="none" stroke="#008080" stroke-width="1.9" stroke-linejoin="round"/>
<polyline points="87.7,458.8 91.32,458.21 94.93,457.64 98.55,457.08 102.16,456.55 105.78,456.03 109.39,455.53 113.01,455.05 116.62,454.58 120.24,454.13 123.85,453.7 127.47,453.28 131.08,452.87 134.7,452.48 138.31,452.1 141.93,451.74 145.54,451.39 149.16,451.05 152.77,450.73 156.39,450.41 160.01,450.11 163.62,449.82 167.24,449.54 170.85,449.27 174.47,449.01 178.08,448.76 181.7,448.52 185.31,448.29 188.93,448.06 192.54,447.84 196.16,447.63 199.77,447.43 203.39,447.23 207,447.04 210.62,446.86 214.23,446.68 217.85,446.51 221.46,446.34 225.08,446.17 228.69,446.01 232.31,445.85 235.93,445.69 239.54,445.54 243.16,445.39 246.77,445.24 250.39,445.09 254,444.94 257.62,444.79 261.23,444.64 264.85,444.5 268.46,444.35 272.08,444.19 275.69,444.04 279.31,443.89 282.92,443.73 286.54,443.57 290.15,443.41 293.77,443.24 297.38,443.07 301,442.89" fill="none" stroke="#ff0000" stroke-width="1.9" stroke-linejoin="round"/>
<polyline points="87.7,449.85 91.32,449.53 94.93,449.2 98.55,448.89 102.16,448.58 105.78,448.28 109.39,447.98 113.01,447.7 116.62,447.41 120.24,447.14 123.85,446.87 127.47,446.61 131.08,446.35 134.7,446.11 138.31,445.86 141.93,445.63 145.54,445.4 149.16,445.17 152.77,444.95 156.39,444.74 160.01,444.54 163.62,444.34 167.24,444.14 170.85,443.95 174.47,443.77 178.08,443.59 181.7,443.42 185.31,443.25 188.93,443.09 192.54,442.94 196.16,442.79 199.77,442.64 203.39,442.5 207,442.37 210.62,442.24 214.23,442.12 217.85,442 221.46,441.88 225.08,441.77 228.69,441.67 232.31,441.57 235.93,441.48 239.54,441.39 243.16,441.3 246.77,441.22 250.39,441.14 254,441.07 257.62,441 261.23,440.94 264.85,440.88 268.46,440.83 272.08,440.78 275.69,440.73 279.31,440.69 282.92,440.65 286.54,440.61 290.15,440.58 293.77,440.56 297.38,440.53 301,440.51" fill="none" stroke="#000000" stroke-width="1.9" stroke-linejoin="round"/>
<polyline points="87.7,443.79 91.32,443.64 94.93,443.49 98.55,443.34 102.16,443.19 105.78,443.05 109.39,442.91 113.01,442.77 116.62,442.64 120.24,442.51 123.85,442.39 127.47,442.27 131.08,442.15 134.7,442.03 138.31,441.92 141.93,441.81 145.54,441.7 149.16,441.6 152.77,441.5 156.39,441.4 160.01,441.3 163.62,441.21 167.24,441.12 170.85,441.03 174.47,440.95 178.08,440.87 181.7,440.79 185.31,440.71 188.93,440.63 192.54,440.56 196.16,440.49 199.77,440.42 203.39,440.36 207,440.3 210.62,440.24 214.23,440.18 217.85,440.12 221.46,440.07 225.08,440.01 228.69,439.96 232.31,439.91 235.93,439.87 239.54,439.82 243.16,439.78 246.77,439.74 250.39,439.7 254,439.66 257.62,439.62 261.23,439.59 264.85,439.55 268.46,439.52 272.08,439.49 275.69,439.46 279.31,439.43 282.92,439.41 286.54,439.38 290.15,439.36 293.77,439.33 297.38,439.31 301,439.29" fill="none" stroke="#0000ff" stroke-width="1.9" stroke-linejoin="round"/>
<line x1="87" y1="437.2" x2="301.5" y2="437.2" stroke="#9a9a9a" stroke-width="1.6" />
<line x1="301.5" y1="437.2" x2="301.5" y2="595.4" stroke="#555" stroke-width="1.2" />
<line x1="86.7" y1="594.6" x2="301.5" y2="594.6" stroke="#555" stroke-width="1.3" />
<line x1="87.4" y1="437.2" x2="87.4" y2="594.6" stroke="#444" stroke-width="1.1" />
<line x1="87" y1="594.6" x2="84" y2="594.6" stroke="#555555" stroke-width="1.1" />
<line x1="87" y1="563.11" x2="84" y2="563.11" stroke="#555555" stroke-width="1.1" />
<line x1="87" y1="531.62" x2="84" y2="531.62" stroke="#555555" stroke-width="1.1" />
<line x1="87" y1="500.13" x2="84" y2="500.13" stroke="#555555" stroke-width="1.1" />
<line x1="87" y1="468.64" x2="84" y2="468.64" stroke="#555555" stroke-width="1.1" />
<line x1="87" y1="437.15" x2="84" y2="437.15" stroke="#555555" stroke-width="1.1" />
<line x1="87" y1="578.86" x2="85" y2="578.86" stroke="#555555" stroke-width="1.1" />
<line x1="87" y1="547.37" x2="85" y2="547.37" stroke="#555555" stroke-width="1.1" />
<line x1="87" y1="515.88" x2="85" y2="515.88" stroke="#555555" stroke-width="1.1" />
<line x1="87" y1="484.38" x2="85" y2="484.38" stroke="#555555" stroke-width="1.1" />
<line x1="87" y1="452.89" x2="85" y2="452.89" stroke="#555555" stroke-width="1.1" />
<line x1="87.2" y1="594.6" x2="87.2" y2="597.6" stroke="#555555" stroke-width="1.1" />
<line x1="158.63" y1="594.6" x2="158.63" y2="597.6" stroke="#555555" stroke-width="1.1" />
<line x1="230.06" y1="594.6" x2="230.06" y2="597.6" stroke="#555555" stroke-width="1.1" />
<line x1="301.49" y1="594.6" x2="301.49" y2="597.6" stroke="#555555" stroke-width="1.1" />
<line x1="122.92" y1="594.6" x2="122.92" y2="596.6" stroke="#555555" stroke-width="1.1" />
<line x1="194.35" y1="594.6" x2="194.35" y2="596.6" stroke="#555555" stroke-width="1.1" />
<line x1="265.78" y1="594.6" x2="265.78" y2="596.6" stroke="#555555" stroke-width="1.1" />
<text x="81.8" y="597.6" font-size="10.2" text-anchor="end" fill="#000" font-weight="bold" >0</text>
<text x="81.8" y="566.11" font-size="10.2" text-anchor="end" fill="#000" font-weight="bold" >20</text>
<text x="81.8" y="534.62" font-size="10.2" text-anchor="end" fill="#000" font-weight="bold" >40</text>
<text x="81.8" y="503.13" font-size="10.2" text-anchor="end" fill="#000" font-weight="bold" >60</text>
<text x="81.8" y="471.64" font-size="10.2" text-anchor="end" fill="#000" font-weight="bold" >80</text>
<text x="81.8" y="440.15" font-size="10.2" text-anchor="end" fill="#000" font-weight="bold" >100</text>
<text x="87.2" y="608.3" font-size="10.2" text-anchor="middle" fill="#000" font-weight="bold" >400</text>
<text x="158.63" y="608.3" font-size="10.2" text-anchor="middle" fill="#000" font-weight="bold" >500</text>
<text x="230.06" y="608.3" font-size="10.2" text-anchor="middle" fill="#000" font-weight="bold" >600</text>
<text x="301.49" y="608.3" font-size="10.2" text-anchor="middle" fill="#000" font-weight="bold" >700</text>
<text x="197.4" y="628.8" font-size="11.9" text-anchor="middle" fill="#000" font-weight="bold" >Wavelength [nm]</text>
<text x="54.7" y="517.3" font-size="11.8" text-anchor="middle" fill="#000" font-weight="bold" transform="rotate(-90 54.7 517.3)" >Transmittance [%]</text>
<text x="0.4" y="437" font-size="19.8" text-anchor="start" fill="#000" font-weight="bold" >(e)</text>
<line x1="199.8" y1="528.2" x2="218" y2="528.2" stroke="#000000" stroke-width="1.9" />
<text x="220.2" y="530.7" font-size="9.1" text-anchor="start" fill="#000" font-weight="bold" >Bare Graphene</text>
<line x1="199.8" y1="539.62" x2="218" y2="539.62" stroke="#ff0000" stroke-width="1.9" />
<text x="220.2" y="542.12" font-size="9.1" text-anchor="start" fill="#000" font-weight="bold" >GI-bilayer (10 nm)</text>
<line x1="199.8" y1="551.04" x2="218" y2="551.04" stroke="#0000ff" stroke-width="1.9" />
<text x="220.2" y="553.54" font-size="9.1" text-anchor="start" fill="#000" font-weight="bold" >GI-bilayer (20 nm)</text>
<line x1="199.8" y1="562.46" x2="218" y2="562.46" stroke="#008080" stroke-width="1.9" />
<text x="220.2" y="564.96" font-size="9.1" text-anchor="start" fill="#000" font-weight="bold" >GI-bilayer (30 nm)</text>
<line x1="199.8" y1="573.88" x2="218" y2="573.88" stroke="#ff00ff" stroke-width="1.9" />
<text x="220.2" y="576.38" font-size="9.1" text-anchor="start" fill="#000" font-weight="bold" >GI-bilayer (40 nm)</text>
<line x1="199.8" y1="585.3" x2="218" y2="585.3" stroke="#808000" stroke-width="1.9" />
<text x="220.2" y="587.8" font-size="9.1" text-anchor="start" fill="#000" font-weight="bold" >GI-bilayer (50 nm)</text>
</svg>
</body></html>
